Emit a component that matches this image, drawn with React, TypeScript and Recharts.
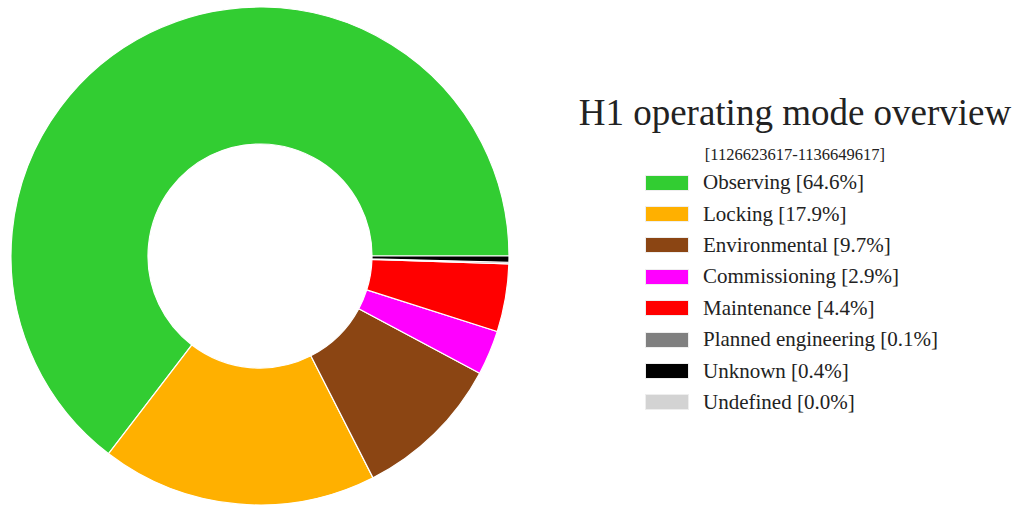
import { PieChart, Pie, Cell, Legend } from "recharts";

const modes = [
  "Observing",
  "Locking",
  "Environmental",
  "Commissioning",
  "Maintenance",
  "Planned engineering",
  "Unknown",
  "Undefined",
];
const shares = [64.6, 17.9, 9.7, 2.9, 4.4, 0.1, 0.4, 0.0];
const colors = [
  "#32cd32",
  "#ffb000",
  "#8b4513",
  "#ff00ff",
  "#ff0000",
  "#808080",
  "#000000",
  "#d3d3d3",
];
const title = "H1 operating mode overview";
const subtitle = "[1126623617-1136649617]";

const data = modes.map((name, i) => ({ name, value: shares[i] }));

const serif = "'Liberation Serif', 'DejaVu Serif', serif";

const renderLegend = () => (
  <div style={{ fontFamily: serif, color: "#222" }}>
    <div style={{ textAlign: "center", fontSize: 37, lineHeight: "40px" }}>
      {title}
    </div>
    <div
      style={{
        textAlign: "center",
        fontSize: 16.5,
        lineHeight: "20px",
        marginTop: 12,
        marginBottom: 2,
      }}
    >
      {subtitle}
    </div>
    <div style={{ paddingLeft: 75 }}>
      {modes.map((m, i) => (
        <div
          key={m}
          style={{ display: "flex", alignItems: "center", height: 31.4 }}
        >
          <span
            style={{
              display: "inline-block",
              width: 42,
              height: 14,
              background: colors[i],
              border: "1px solid #eee",
              marginRight: 14,
            }}
          />
          <span style={{ fontSize: 21 }}>
            {m} [{shares[i].toFixed(1)}%]
          </span>
        </div>
      ))}
    </div>
  </div>
);

export default function App() {
  return (
    <div style={{ width: 1014, height: 505, background: "#fff" }}>
      <style>{`body{margin:0}`}</style>
      <PieChart
        width={1014}
        height={505}
        margin={{ top: 0, right: 0, bottom: 0, left: 0 }}
      >
        <Pie
          data={data}
          dataKey="value"
          nameKey="name"
          cx={260}
          cy={256}
          innerRadius={112}
          outerRadius={249}
          startAngle={0}
          endAngle={360}
          stroke="#fff"
          strokeWidth={1.2}
          isAnimationActive={false}
        >
          {data.map((d, i) => (
            <Cell key={d.name} fill={colors[i]} />
          ))}
        </Pie>
        <Legend
          content={renderLegend}
          wrapperStyle={{ position: "absolute", left: 570, top: 93, width: 450 }}
        />
      </PieChart>
    </div>
  );
}
